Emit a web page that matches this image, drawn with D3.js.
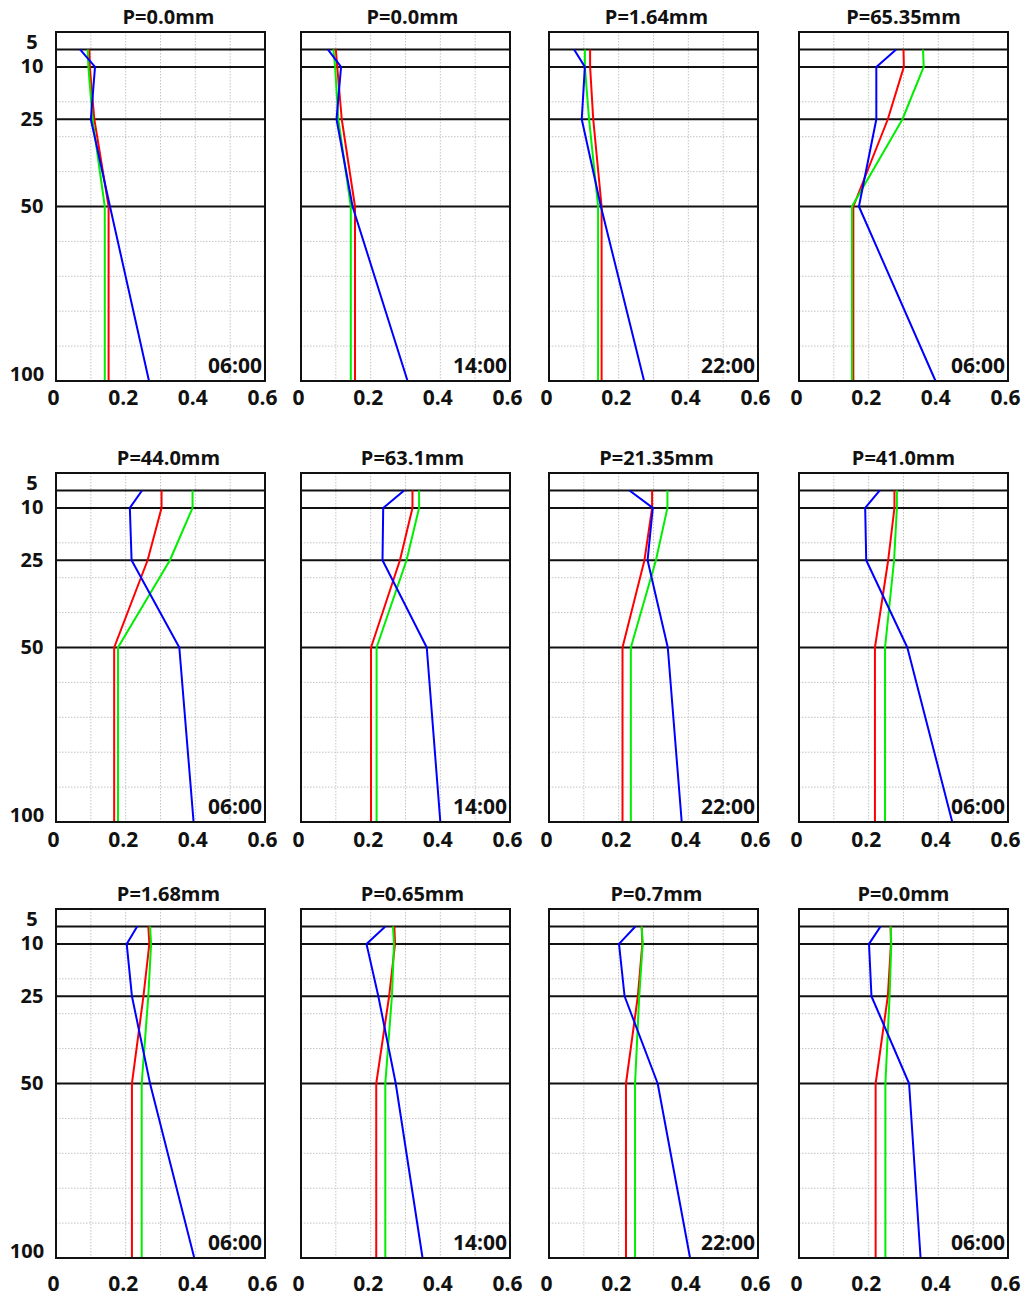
<!DOCTYPE html>
<html>
<head>
<meta charset="utf-8">
<script src="https://cdn.jsdelivr.net/npm/d3@7"></script>
<style>
  html, body { margin: 0; padding: 0; background: #fff; }
  svg { display: block; }
</style>
</head>
<body>
<svg id="chart" width="1026" height="1297"></svg>
<script>
// Soil-moisture profiles: depth (cm) vs volumetric water content, 12 panels.
const depths = [5, 10, 25, 50, 100];
const layerDepths = [5, 10, 25, 50];
const gridDepths = [10, 20, 30, 40, 60, 70, 80, 90];
const xTicks = [0, 0.2, 0.4, 0.6];
const xGrid = [0.1, 0.2, 0.3, 0.4, 0.5];

const titles = ["P=0.0mm", "P=0.0mm", "P=1.64mm", "P=65.35mm",
                "P=44.0mm", "P=63.1mm", "P=21.35mm", "P=41.0mm",
                "P=1.68mm", "P=0.65mm", "P=0.7mm", "P=0.0mm"];
const times = ["06:00", "14:00", "22:00", "06:00",
               "06:00", "14:00", "22:00", "06:00",
               "06:00", "14:00", "22:00", "06:00"];

// values at depths 5, 10, 25, 50, 100 cm
const blue = [
  [0.069, 0.112, 0.100, 0.155, 0.267],
  [0.077, 0.115, 0.102, 0.148, 0.306],
  [0.072, 0.103, 0.094, 0.149, 0.273],
  [0.279, 0.222, 0.222, 0.172, 0.392],
  [0.247, 0.212, 0.217, 0.354, 0.395],
  [0.296, 0.236, 0.234, 0.361, 0.400],
  [0.231, 0.298, 0.283, 0.341, 0.381],
  [0.232, 0.190, 0.193, 0.311, 0.440],
  [0.233, 0.203, 0.218, 0.270, 0.397],
  [0.242, 0.188, 0.222, 0.272, 0.349],
  [0.248, 0.201, 0.217, 0.312, 0.405],
  [0.234, 0.201, 0.208, 0.316, 0.349]
];
const red = [
  [0.096, 0.097, 0.110, 0.151, 0.151],
  [0.100, 0.104, 0.117, 0.155, 0.155],
  [0.118, 0.118, 0.127, 0.151, 0.151],
  [0.300, 0.301, 0.255, 0.156, 0.156],
  [0.303, 0.303, 0.263, 0.167, 0.167],
  [0.320, 0.320, 0.284, 0.201, 0.201],
  [0.296, 0.296, 0.274, 0.211, 0.211],
  [0.274, 0.274, 0.256, 0.218, 0.218],
  [0.265, 0.268, 0.251, 0.218, 0.218],
  [0.268, 0.270, 0.253, 0.216, 0.216],
  [0.266, 0.268, 0.255, 0.221, 0.221],
  [0.263, 0.264, 0.255, 0.220, 0.220]
];
const green = [
  [0.091, 0.093, 0.105, 0.140, 0.140],
  [0.093, 0.098, 0.107, 0.143, 0.143],
  [0.103, 0.103, 0.115, 0.141, 0.141],
  [0.356, 0.358, 0.297, 0.152, 0.152],
  [0.392, 0.392, 0.327, 0.178, 0.178],
  [0.339, 0.339, 0.303, 0.217, 0.217],
  [0.340, 0.340, 0.307, 0.235, 0.235],
  [0.281, 0.281, 0.273, 0.247, 0.247],
  [0.270, 0.273, 0.265, 0.246, 0.246],
  [0.264, 0.267, 0.261, 0.242, 0.242],
  [0.266, 0.269, 0.259, 0.247, 0.247],
  [0.263, 0.265, 0.260, 0.248, 0.248]
];

// panel layout
const colLeft = [56, 301, 549, 799];
const rowTop = [32, 473, 909];
const W = 209, H = 349;
const xLabelGap = [24, 25, 33];
const titleShift = [8, 7, 3, 0];

const svg = d3.select("#chart");
const x = d3.scaleLinear().domain([0, 0.6]).range([0, W]);
const y = d3.scaleLinear().domain([0, 100]).range([0, H]);
const line = d3.line().x(d => x(d.v)).y(d => y(d.d));

const labelFont = "'Open Sans', 'Liberation Sans', sans-serif";

titles.forEach((title, i) => {
  const r = Math.floor(i / 4), c = i % 4;
  const g = svg.append("g").attr("transform", `translate(${colLeft[c]},${rowTop[r]})`);

  // dotted grid
  g.append("g").selectAll("line").data(xGrid).join("line")
    .attr("x1", d => x(d)).attr("x2", d => x(d))
    .attr("y1", 0).attr("y2", H)
    .attr("stroke", "#c4c4c4").attr("stroke-width", 1).attr("stroke-dasharray", "1.5,1.5");
  g.append("g").selectAll("line").data(gridDepths).join("line")
    .attr("x1", 0).attr("x2", W)
    .attr("y1", d => y(d)).attr("y2", d => y(d))
    .attr("stroke", "#c4c4c4").attr("stroke-width", 1).attr("stroke-dasharray", "1.5,1.5");

  // soil layer boundaries
  g.append("g").selectAll("line").data(layerDepths).join("line")
    .attr("x1", 0).attr("x2", W)
    .attr("y1", d => y(d)).attr("y2", d => y(d))
    .attr("stroke", "#111").attr("stroke-width", 2);

  // profiles
  const series = [
    { vals: red[i], color: "#ff0000" },
    { vals: green[i], color: "#00ee00" },
    { vals: blue[i], color: "#0000ff" }
  ];
  series.forEach(s => {
    g.append("path")
      .datum(depths.map((d, k) => ({ d: d, v: s.vals[k] })))
      .attr("d", line)
      .attr("fill", "none")
      .attr("stroke", s.color)
      .attr("stroke-width", 2)
      .attr("stroke-linejoin", "round");
  });

  // frame
  g.append("rect").attr("x", 0).attr("y", 0).attr("width", W).attr("height", H)
    .attr("fill", "none").attr("stroke", "#111").attr("stroke-width", 2);

  // title
  g.append("text")
    .attr("x", W / 2 + titleShift[c]).attr("y", -8)
    .attr("text-anchor", "middle")
    .attr("font-family", labelFont).attr("font-weight", "bold").attr("font-size", 20)
    .attr("fill", "#111")
    .text(title);

  // time of day
  g.append("text")
    .attr("x", W - 3).attr("y", H - 8)
    .attr("text-anchor", "end")
    .attr("font-family", labelFont).attr("font-weight", "bold").attr("font-size", 21)
    .attr("fill", "#111")
    .text(times[i]);

  // x axis labels
  const xa = g.append("g")
    .attr("transform", `translate(-3,${H})`)
    .call(d3.axisBottom(x).tickValues(xTicks).tickSize(0)
      .tickFormat(d => d === 0 ? "0" : d3.format(".1f")(d)));
  xa.select(".domain").remove();
  xa.selectAll("text")
    .attr("y", xLabelGap[r]).attr("dy", null)
    .attr("font-family", labelFont).attr("font-weight", "bold").attr("font-size", 21)
    .attr("fill", "#111");

  // depth labels on the first column
  if (c === 0) {
    const ya = g.append("g")
      .call(d3.axisLeft(y).tickValues(depths).tickSize(0));
    ya.select(".domain").remove();
    ya.selectAll("text")
      .attr("x", d => d === 100 ? -29 : -24)
      .attr("text-anchor", "middle")
      .attr("dy", d => d === 5 ? "-0.05em" : d === 100 ? "-0.05em" : "0.3em")
      .attr("font-family", labelFont).attr("font-weight", "bold").attr("font-size", 20)
      .attr("fill", "#111");
  }
});
</script>
</body>
</html>
